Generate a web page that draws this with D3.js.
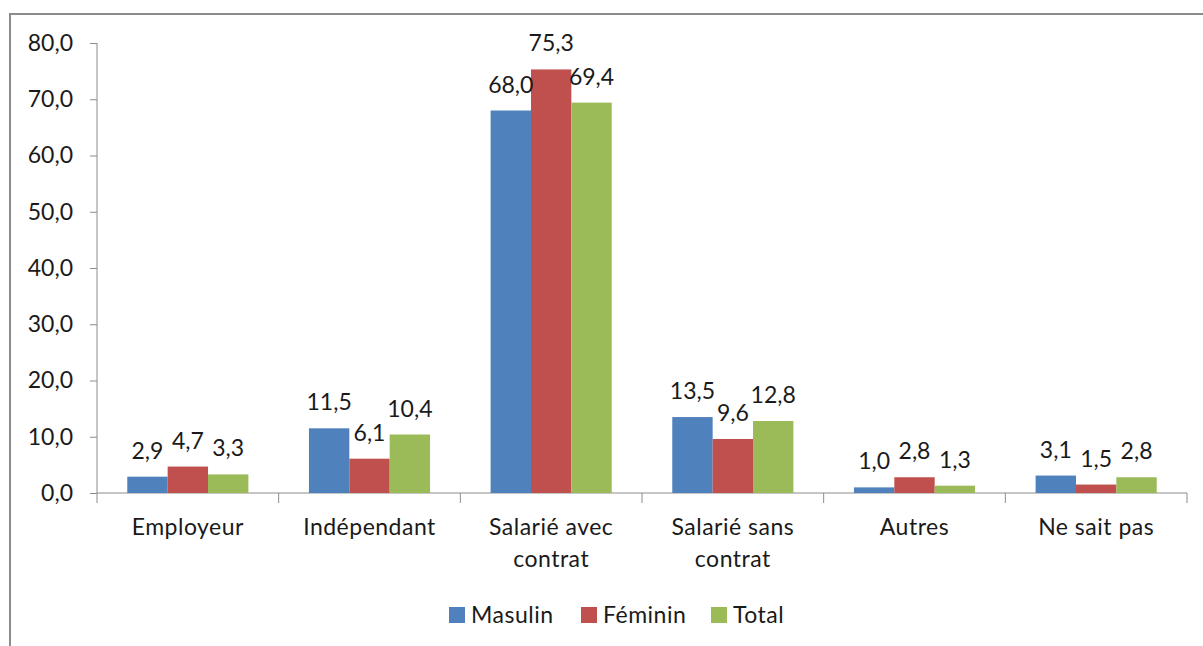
<!DOCTYPE html>
<html>
<head>
<meta charset="utf-8">
<script src="https://cdn.jsdelivr.net/npm/d3@7"></script>
<style>
  body { margin: 0; background: #fff; }
  svg text { font-family: Lato, "Open Sans", sans-serif; fill: #1a1a1a; }
</style>
</head>
<body>
<svg id="chart"></svg>
<script>
// data
var categories = ["Employeur", "Indépendant", "Salarié avec contrat", "Salarié sans contrat", "Autres", "Ne sait pas"];
var catLines = [["Employeur"], ["Indépendant"], ["Salarié avec", "contrat"], ["Salarié sans", "contrat"], ["Autres"], ["Ne sait pas"]];
var seriesNames = ["Masulin", "Féminin", "Total"];
var masculin = [2.9, 11.5, 68.0, 13.5, 1.0, 3.1];
var feminin = [4.7, 6.1, 75.3, 9.6, 2.8, 1.5];
var total = [3.3, 10.4, 69.4, 12.8, 1.3, 2.8];
var yTicks = [0, 10, 20, 30, 40, 50, 60, 70, 80];
var colors = ["#4F81BD", "#C0504D", "#9BBB59"];

var W = 1203, H = 646;
var margin = {top: 43, left: 97, right: 16, bottom: 153};
var width = W - margin.left - margin.right,
    height = H - margin.top - margin.bottom;

var svg = d3.select("#chart").attr("width", W).attr("height", H);

// outer frame (cut off on right and bottom like the screenshot)
svg.append("path")
    .attr("d", "M10,660 L10,14 L1210,14")
    .attr("fill", "none")
    .attr("stroke", "#8c8c8c")
    .attr("stroke-width", 2);

var g = svg.append("g").attr("transform", "translate(" + margin.left + "," + margin.top + ")");

// group = 3 bars, gap = 1.5 bar widths -> outer padding 0.75 of a step on each side
var x0 = d3.scaleBand().domain(categories).range([0, width]).padding(0);
var x1 = d3.scaleBand().domain(seriesNames).range([0, x0.bandwidth()]).paddingInner(0).paddingOuter(0.75);
var y = d3.scaleLinear().domain([0, 80]).range([height, 0]);

var fmt = function(v) { return d3.format(".1f")(v).replace(".", ","); };

// y axis
var yAxis = g.append("g")
    .call(d3.axisLeft(y).tickValues(yTicks).tickSize(7).tickPadding(17).tickFormat(fmt));
yAxis.select(".domain").attr("stroke", "#8c8c8c").attr("d", "M0,0V" + height);
yAxis.selectAll(".tick line").attr("stroke", "#8c8c8c");
yAxis.selectAll(".tick text").style("font-size", "23px").attr("fill", "#1a1a1a").attr("font-family", null);

// x axis
var xAxis = g.append("g").attr("transform", "translate(0," + height + ")");
xAxis.append("line").attr("x1", 0).attr("x2", width).attr("stroke", "#8c8c8c");
xAxis.selectAll(".ctick")
    .data(d3.range(categories.length + 1))
    .enter().append("line")
    .attr("x1", function(i) { return i * x0.step(); })
    .attr("x2", function(i) { return i * x0.step(); })
    .attr("y1", 0).attr("y2", 10)
    .attr("stroke", "#8c8c8c");

var lab = xAxis.selectAll(".clabel")
    .data(categories)
    .enter().append("text")
    .attr("text-anchor", "middle")
    .attr("x", function(d) { return x0(d) + x0.bandwidth() / 2; })
    .attr("y", 42)
    .style("font-size", "23px")
    .style("letter-spacing", "0.5px");
lab.each(function(d, i) {
    var t = d3.select(this);
    catLines[i].forEach(function(line, j) {
        t.append("tspan")
            .attr("x", x0(d) + x0.bandwidth() / 2)
            .attr("dy", j === 0 ? 0 : 32)
            .text(line);
    });
});

// bars
var table = categories.map(function(c, i) {
    return {cat: c, vals: [masculin[i], feminin[i], total[i]]};
});

var groups = g.selectAll(".grp")
    .data(table)
    .enter().append("g")
    .attr("transform", function(d) { return "translate(" + x0(d.cat) + ",0)"; });

groups.selectAll("rect")
    .data(function(d) { return d.vals.map(function(v, k) { return {s: seriesNames[k], v: v, k: k}; }); })
    .enter().append("rect")
    .attr("x", function(d) { return x1(d.s); })
    .attr("width", x1.bandwidth())
    .attr("y", function(d) { return y(d.v); })
    .attr("height", function(d) { return height - y(d.v); })
    .attr("fill", function(d) { return colors[d.k]; });

groups.selectAll(".val")
    .data(function(d) { return d.vals.map(function(v, k) { return {s: seriesNames[k], v: v, k: k}; }); })
    .enter().append("text")
    .attr("text-anchor", "middle")
    .attr("x", function(d) { return x1(d.s) + x1.bandwidth() / 2; })
    .attr("y", function(d) { return y(d.v) - 18; })
    .style("font-size", "23px")
    .text(function(d) { return fmt(d.v); });

// legend
var legendX = [449, 581, 711];
var legend = svg.selectAll(".leg")
    .data(seriesNames)
    .enter().append("g")
    .attr("transform", function(d, i) { return "translate(" + legendX[i] + ",607)"; });
legend.append("rect").attr("width", 16).attr("height", 16)
    .attr("fill", function(d, i) { return colors[i]; });
legend.append("text").attr("x", 22).attr("y", 16)
    .style("font-size", "23px")
    .style("letter-spacing", "0.5px")
    .text(function(d) { return d; });
</script>
</body>
</html>
